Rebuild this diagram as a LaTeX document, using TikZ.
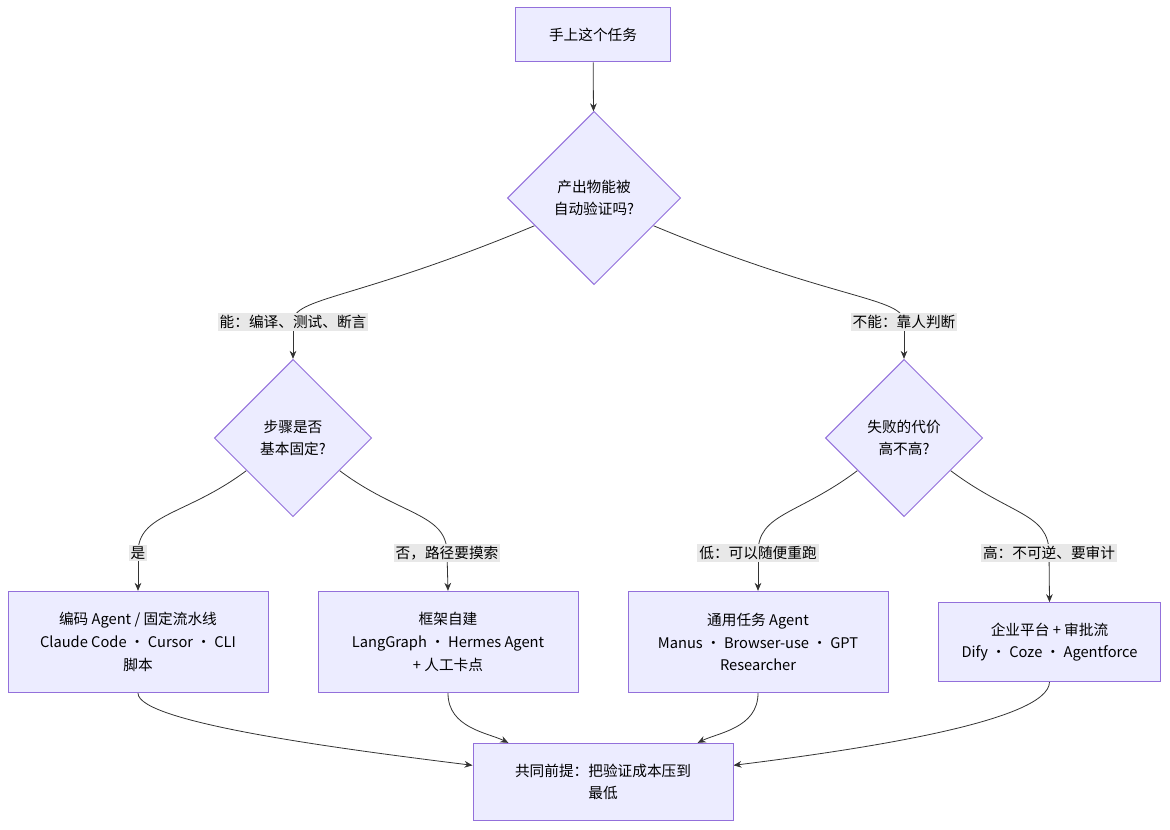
\documentclass[tikz,border=0pt]{standalone}
\usepackage{fontspec}
\setmainfont{Noto Sans CJK SC}
\usetikzlibrary{shapes.geometric,backgrounds,arrows.meta}
\definecolor{boxfill}{HTML}{ECECFF}
\definecolor{boxline}{HTML}{9370DB}
\definecolor{edgeline}{HTML}{333333}
\definecolor{labelbg}{HTML}{E8E8E8}
\tikzset{
  flowbox/.style={draw=boxline, fill=boxfill, line width=0.75pt, align=center, font=\fontsize{11}{17}\selectfont},
  choice/.style={flowbox, diamond, aspect=1, inner sep=0pt, minimum size=130pt},
  edgelabel/.style={fill=labelbg, inner sep=1.5pt, font=\fontsize{11}{13}\selectfont},
  flow/.style={draw=edgeline, line width=0.6pt},
  arrow/.style={flow, -{Stealth[length=6pt,width=5pt]}},
}
\begin{document}
\begin{tikzpicture}[x=0.75pt, y=-0.75pt]
  \useasboundingbox (0,0) rectangle (1170,830);

  % boxes
  \node[flowbox, minimum width=116pt, minimum height=40.5pt] (task) at (593,35) {手上这个任务};
  \node[choice] (verify) at (594,198) {产出物能被\\自动验证吗?};
  \node[choice, minimum size=118pt] (fixed) at (293,438) {步骤是否\\基本固定?};
  \node[choice, minimum size=118pt] (cost) at (904,438) {失败的代价\\高不高?};
  \node[flowbox, minimum width=195pt, minimum height=76pt] (code) at (138,642) {编码 Agent / 固定流水线\\Claude Code · Cursor · CLI\\脚本};
  \node[flowbox, minimum width=195pt, minimum height=76pt] (frame) at (448,642) {框架自建\\LangGraph · Hermes Agent\\+ 人工卡点};
  \node[flowbox, minimum width=195pt, minimum height=76pt] (general) at (758,642) {通用任务 Agent\\Manus · Browser-use · GPT\\Researcher};
  \node[flowbox, minimum width=167pt, minimum height=59pt] (platform) at (1049.5,642) {企业平台 + 审批流\\Dify · Coze · Agentforce};
  \node[flowbox, minimum width=195pt, minimum height=58pt] (base) at (603,782) {共同前提：把验证成本压到\\最低};

  % edge labels
  \node[edgelabel] (lyes) at (293,322) {能：编译、测试、断言};
  \node[edgelabel] (lno) at (904,322) {不能：靠人判断};
  \node[edgelabel] (lfix) at (138,553) {是};
  \node[edgelabel] (lexp) at (447,553) {否，路径要摸索};
  \node[edgelabel] (llow) at (758,553) {低：可以随便重跑};
  \node[edgelabel] (lhigh) at (1049,553) {高：不可逆、要审计};

  \begin{scope}[on background layer]
    \draw[arrow] (task) -- (verify);
    \draw[flow] (verify.205) .. controls +(-180,75) and +(0,-25) .. (lyes.center);
    \draw[arrow] (lyes.center) -- (fixed.north);
    \draw[flow] (verify.335) .. controls +(180,75) and +(0,-25) .. (lno.center);
    \draw[arrow] (lno.center) -- (cost.north);
    \draw[flow] (fixed.215) .. controls +(-60,45) and +(0,-40) .. (lfix.center);
    \draw[arrow] (lfix.center) -- (code.north);
    \draw[flow] (fixed.325) .. controls +(60,45) and +(0,-40) .. (lexp.center);
    \draw[arrow] (lexp.center) -- (frame.north);
    \draw[flow] (cost.215) .. controls +(-60,45) and +(0,-40) .. (llow.center);
    \draw[arrow] (llow.center) -- (general.north);
    \draw[flow] (cost.325) .. controls +(60,45) and +(0,-40) .. (lhigh.center);
    \draw[arrow] (lhigh.center) -- (platform.north);
    \draw[arrow] (code.south) .. controls +(0,30) and +(-120,-15) .. ([yshift=12.5pt]base.west);
    \draw[arrow] (frame.south) .. controls +(0,35) and +(-20,-10) .. ([xshift=-71pt]base.north);
    \draw[arrow] (general.south) .. controls +(0,35) and +(20,-10) .. ([xshift=71pt]base.north);
    \draw[arrow] (platform.south) .. controls +(0,40) and +(120,-15) .. ([yshift=12.5pt]base.east);
  \end{scope}
\end{tikzpicture}
\end{document}
